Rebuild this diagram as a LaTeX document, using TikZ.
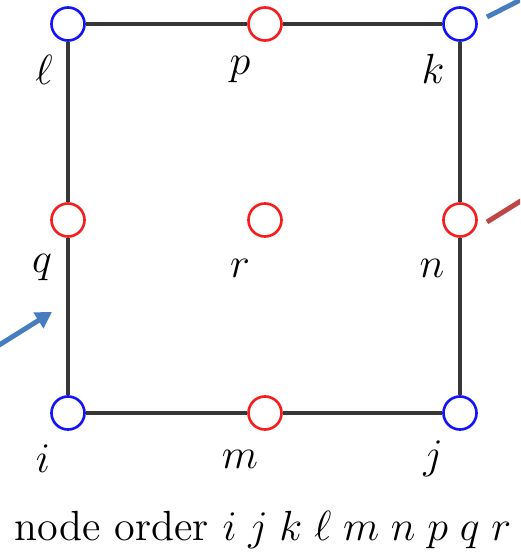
\documentclass[tikz,border=0pt]{standalone}
\usepackage{amsmath}
\usetikzlibrary{arrows.meta, positioning, calc}
\definecolor{myblue}{RGB}{20,20,245}
\definecolor{myred}{RGB}{245,30,30}
\definecolor{mydark}{RGB}{55,55,55}
\definecolor{arrblue}{RGB}{70,125,190}
\definecolor{arrred}{RGB}{190,70,70}
\tikzset{
  vertex/.style={circle, draw=myblue, fill=white,
    minimum size=0.33cm, inner sep=0pt, line width=0.75pt},
  midnode/.style={vertex, draw=myred},
  edge/.style={line width=0.9pt, color=mydark},
  lbl/.style={font=\fontsize{11.5}{14}\selectfont},
  caption/.style={font=\fontsize{12}{14}\selectfont},
  bluearrow/.style={-{Triangle[length=0.16cm,width=0.18cm]},
    line width=1.4pt, color=arrblue},
  blueline/.style={line width=1.4pt, color=arrblue},
  redline/.style={line width=1.4pt, color=arrred}
}

\begin{document}
\begin{tikzpicture}[x=0.01cm, y=0.01cm]
  \useasboundingbox (0,0) rectangle (520,557);
  \clip (0,0) rectangle (520,557);

  % Corner nodes
  \node[vertex, label={[lbl, shift={(-25,-46)}]center:$i$}] (i) at (68,144) {};
  \node[vertex, label={[lbl, shift={(-27,-46)}]center:$j$}] (j) at (460,144) {};
  \node[vertex, label={[lbl, shift={(-27,-45)}]center:$k$}] (k) at (460,533) {};
  \node[vertex, label={[lbl, shift={(-24,-46)}]center:$\ell$}] (l) at (68,533) {};

  % Mid-side and centre nodes
  \node[midnode, label={[lbl, shift={(-25,-46)}]center:$m$}] (m) at (265,144) {};
  \node[midnode, label={[lbl, shift={(-28,-48)}]center:$n$}] (n) at (460,337) {};
  \node[midnode, label={[lbl, shift={(-25,-46)}]center:$p$}] (p) at (265,533) {};
  \node[midnode, label={[lbl, shift={(-26,-48)}]center:$q$}] (q) at (68,337) {};
  \node[midnode, label={[lbl, shift={(-25,-48)}]center:$r$}] (r) at (265,337) {};

  % Element boundary
  \draw[edge] (l) -- (p) -- (k) -- (n) -- (j) -- (m) -- (i) -- (q) -- (l);

  % Pointers coming in from outside
  \coordinate (blueend) at (540,567);
  \coordinate (redend) at (540,368);
  \coordinate (leftend) at (-20,200);
  \coordinate (lefttip) at (52,245);
  \draw[blueline] ($(k)+(27,7)$) -- (blueend);
  \draw[redline] ($(n)+(27,-2)$) -- (redend);
  \draw[bluearrow] (leftend) -- (lefttip);

  % Caption
  \node[caption, anchor=base, inner sep=0pt] (order) at (263,17)
    {node order $i\;j\;k\;\ell\;m\;n\;p\;q\;r$};
\end{tikzpicture}
\end{document}
